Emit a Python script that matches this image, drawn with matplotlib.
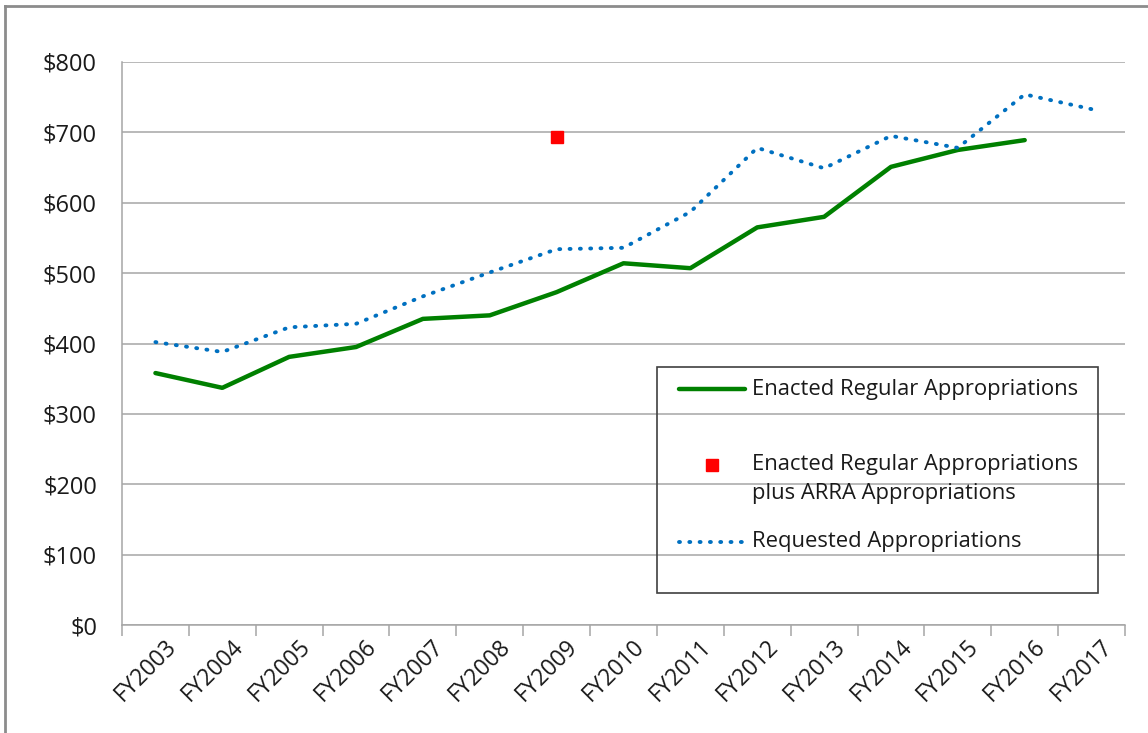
import numpy as np
import matplotlib
matplotlib.use("Agg")
import matplotlib.pyplot as plt
import matplotlib.transforms as mtransforms
from matplotlib.lines import Line2D
from matplotlib.patches import Rectangle

# data (millions of dollars)
years = ["FY2003", "FY2004", "FY2005", "FY2006", "FY2007", "FY2008", "FY2009", "FY2010",
         "FY2011", "FY2012", "FY2013", "FY2014", "FY2015", "FY2016", "FY2017"]
enacted = [358, 337, 381, 395, 435, 440, 473, 514, 507, 565, 580, 651, 675, 689, None]
requested = [402, 388, 423, 428, 467, 501, 534, 536, 587, 678, 649, 695, 678, 754, 733]
arra_year = "FY2009"
arra_value = 693

W, H = 1148, 733
plt.rcParams["font.family"] = ["Open Sans", "DejaVu Sans"]

fig = plt.figure(figsize=(W / 100, H / 100), dpi=100)


def fx(px):
    return px / W


def fy(py):
    return 1 - py / H


ax = fig.add_axes([fx(122), fy(625), fx(1125) - fx(122), fy(62) - fy(625)])

x = np.arange(len(years))
enacted_y = np.array([np.nan if v is None else v for v in enacted], dtype=float)

ax.plot(x, enacted_y, color="#008000", lw=3.2, solid_capstyle="round", zorder=3)
ax.plot(x, requested, color="#0070C0", lw=2.8, linestyle=(0, (0.25, 2.4)),
        dash_capstyle="round", zorder=3)
ax.plot([years.index(arra_year)], [arra_value], marker="s", ms=9, color="#FF0000",
        linestyle="none", zorder=4)

ax.set_xlim(-0.5, len(years) - 0.5)
ax.set_ylim(0, 800)
ax.set_yticks(np.arange(0, 801, 100))
ax.set_yticklabels(["${}".format(v) for v in range(0, 801, 100)], fontsize=17,
                   color="#1a1a1a")
ax.tick_params(axis="y", length=0, pad=18)
ax.yaxis.grid(True, color="#A6A6A6", lw=1.1)
ax.set_axisbelow(True)

# tick marks between categories, labels at category centres
ax.set_xticks(np.arange(-0.5, len(years), 1))
ax.set_xticklabels([])
ax.tick_params(axis="x", which="major", length=8, color="#A6A6A6", width=1.1)
ax.set_xticks(x, minor=True)
ax.set_xticklabels(years, minor=True, rotation=45, ha="right", va="top",
                   rotation_mode="anchor", fontsize=16.5, color="#1a1a1a")
ax.tick_params(axis="x", which="minor", length=0, pad=7)
shift = mtransforms.ScaledTranslation(9 / 100, 0, fig.dpi_scale_trans)
for lab in ax.get_xticklabels(minor=True):
    lab.set_transform(lab.get_transform() + shift)

for s in ["top", "right"]:
    ax.spines[s].set_visible(False)
for s in ["left", "bottom"]:
    ax.spines[s].set_color("#A6A6A6")
    ax.spines[s].set_linewidth(1.1)

# legend drawn as a box in figure pixels
fig.patches.append(Rectangle((fx(657), fy(593)), fx(1098) - fx(657), fy(367) - fy(593),
                             transform=fig.transFigure, fill=False, edgecolor="#404040",
                             lw=1.2, zorder=5))
fig.add_artist(Line2D([fx(679), fx(745)], [fy(389), fy(389)], transform=fig.transFigure,
                      color="#008000", lw=3.2, solid_capstyle="round"))
fig.add_artist(Line2D([fx(712)], [fy(465)], transform=fig.transFigure, marker="s", ms=8,
                      color="#FF0000", linestyle="none"))
fig.add_artist(Line2D([fx(679), fx(743)], [fy(542), fy(542)], transform=fig.transFigure,
                      color="#0070C0", lw=2.8, linestyle=(0, (0.25, 2.4)),
                      dash_capstyle="round"))
fs_leg = 15.8
fig.text(fx(752), fy(389), "Enacted Regular Appropriations", fontsize=fs_leg,
         va="center", ha="left", color="#1a1a1a")
fig.text(fx(752), fy(465), "Enacted Regular Appropriations", fontsize=fs_leg,
         va="center", ha="left", color="#1a1a1a")
fig.text(fx(752), fy(494), "plus ARRA Appropriations", fontsize=fs_leg,
         va="center", ha="left", color="#1a1a1a")
fig.text(fx(752), fy(542), "Requested Appropriations", fontsize=fs_leg,
         va="center", ha="left", color="#1a1a1a")

# chart area border (left and top edges)
fig.add_artist(Line2D([fx(5), fx(5)], [0, fy(6)], transform=fig.transFigure,
                      color="#8C8C8C", lw=2))
fig.add_artist(Line2D([fx(5), 1], [fy(6), fy(6)], transform=fig.transFigure,
                      color="#8C8C8C", lw=2))

fig.savefig("out.png", dpi=100)
